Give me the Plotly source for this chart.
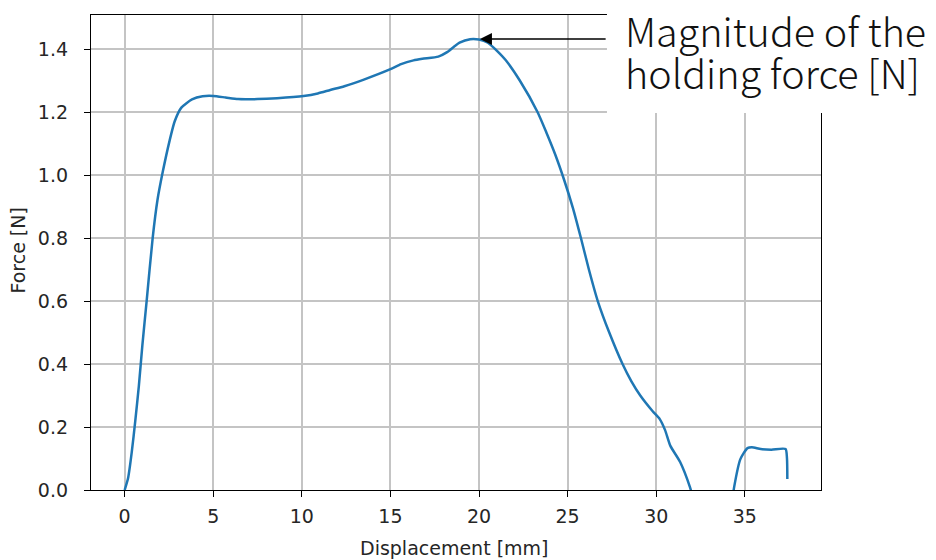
import plotly.graph_objects as go

disp_seg1 = [0.0, 0.2, 0.4, 0.6, 0.8, 1.0, 1.24, 1.58, 1.85, 2.15, 2.54, 2.82, 3.2, 3.8,
             4.4, 5.0, 5.7, 6.4, 7.5, 8.6, 10.1, 10.9, 11.6, 12.4, 13.5, 15.0, 15.6, 16.3,
             16.8, 17.7, 18.2, 18.6, 18.9, 19.5, 20.0, 20.5, 21.0, 21.5, 22.3, 23.3, 23.8,
             24.3, 24.8, 25.3, 25.75, 26.2, 26.7, 27.35, 28.1, 28.6, 29.1, 29.8, 30.2, 30.5,
             30.8, 31.35, 31.9, 32.1]
force_seg1 = [0.0, 0.04, 0.12, 0.22, 0.33, 0.46, 0.60, 0.80, 0.92, 1.01, 1.11, 1.17, 1.214,
              1.240, 1.250, 1.251, 1.246, 1.241, 1.241, 1.244, 1.251, 1.259, 1.270, 1.282,
              1.303, 1.336, 1.352, 1.364, 1.369, 1.376, 1.390, 1.408, 1.420, 1.431, 1.430,
              1.420, 1.395, 1.365, 1.30, 1.20, 1.135, 1.065, 0.985, 0.895, 0.80, 0.70, 0.60,
              0.50, 0.40, 0.345, 0.30, 0.25, 0.225, 0.19, 0.14, 0.089, 0.01, -0.03]
disp_seg2 = [34.3, 34.4, 34.75, 35.15, 35.4, 35.9, 36.5, 37.3, 37.38, 37.4]
force_seg2 = [-0.03, 0.01, 0.098, 0.133, 0.136, 0.130, 0.128, 0.130, 0.10, 0.035]

x_ticks = [0, 5, 10, 15, 20, 25, 30, 35]
y_ticks = [0.0, 0.2, 0.4, 0.6, 0.8, 1.0, 1.2, 1.4]
y_tick_text = ["0.0", "0.2", "0.4", "0.6", "0.8", "1.0", "1.2", "1.4"]

x_title = "Displacement [mm]"
y_title = "Force [N]"
peak_disp = 20.05
peak_force = 1.432
label_line1 = "Magnitude of the"
label_line2 = "holding force [N]"

xs = disp_seg1 + [None] + disp_seg2
ys = force_seg1 + [None] + force_seg2

fig = go.Figure()
fig.add_trace(go.Scatter(
    x=xs, y=ys, mode="lines", connectgaps=False,
    line=dict(color="#1f77b4", width=2.5, shape="spline", smoothing=0.6),
    hoverinfo="skip", showlegend=False,
))

axis_common = dict(
    showline=True, linecolor="#000000", linewidth=1.3, mirror=True,
    showgrid=True, gridcolor="#c4c4c4", gridwidth=1.5,
    zeroline=False, ticks="outside", ticklen=6, tickwidth=1.3, tickcolor="#000000",
    tickfont=dict(family="DejaVu Sans", size=19, color="#262626"),
)
title_font = dict(family="DejaVu Sans", size=19, color="#262626")

fig.update_layout(
    width=936, height=560,
    margin=dict(l=91, r=115, t=15, b=70),
    paper_bgcolor="white", plot_bgcolor="white",
    xaxis=dict(range=[-1.9, 39.3], tickvals=x_ticks, ticklabelstandoff=3, **axis_common),
    yaxis=dict(range=[0, 1.508], tickvals=y_ticks, ticktext=y_tick_text,
               ticklabelstandoff=12, **axis_common),
    shapes=[dict(type="rect", xref="paper", yref="paper",
                 x0=0.7068, x1=1.2, y0=0.7937, y1=1.1,
                 fillcolor="white", line=dict(width=0), layer="above")],
    annotations=[
        dict(x=0.4986, y=-0.1221, xref="paper", yref="paper", xanchor="center",
             yanchor="middle", text=x_title, showarrow=False, font=title_font),
        dict(x=-0.0993, y=0.503, xref="paper", yref="paper", xanchor="center",
             yanchor="middle", text=y_title, textangle=-90, showarrow=False, font=title_font),
        dict(x=peak_disp, y=peak_force, xref="x", yref="y",
             ax=27.23, ay=peak_force, axref="x", ayref="y",
             text="", showarrow=True, arrowhead=2, arrowsize=1.5, arrowwidth=1.6,
             arrowcolor="#000000", standoff=0),
        dict(x=0.729, y=0.969, xref="paper", yref="paper", xanchor="left", yanchor="middle",
             text=label_line1, showarrow=False,
             font=dict(family="Noto Sans CJK JP", size=39.5, color="#111111", weight=300)),
        dict(x=0.729, y=0.8806, xref="paper", yref="paper", xanchor="left", yanchor="middle",
             text=label_line2, showarrow=False,
             font=dict(family="Noto Sans CJK JP", size=39.5, color="#111111", weight=300)),
    ],
)

fig.write_html("out.html", config={"displayModeBar": False},
               post_script="document.body.style.margin='0';")
